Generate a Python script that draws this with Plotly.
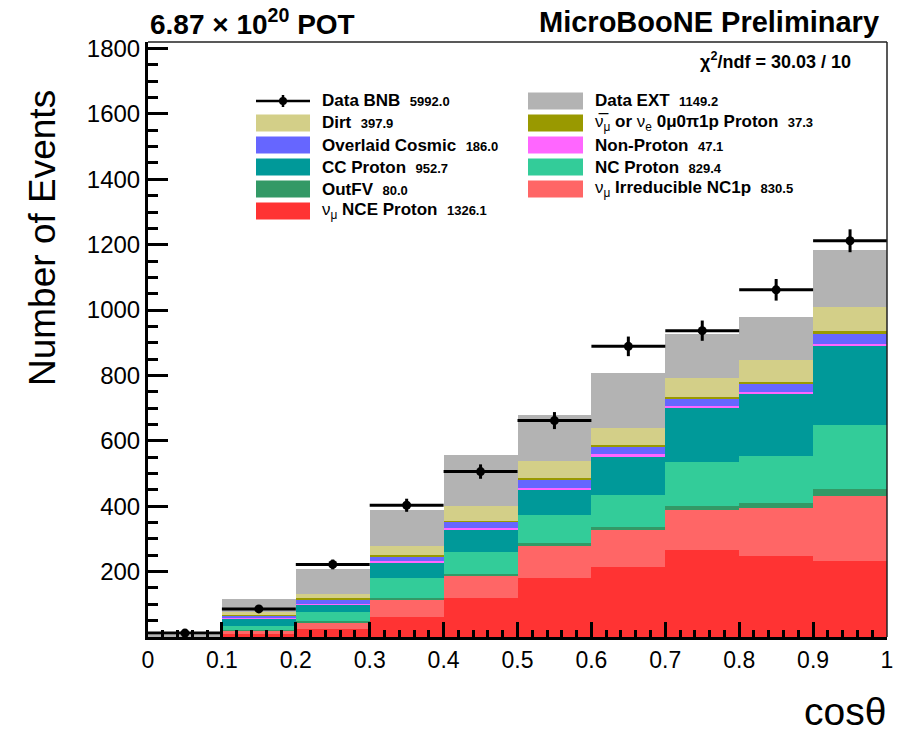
import plotly.graph_objects as go

# bin centres of cos(theta), 10 bins of width 0.1
bin_centers = [0.05, 0.15, 0.25, 0.35, 0.45, 0.55, 0.65, 0.75, 0.85, 0.95]

# stacked MC components, bottom to top
nce_proton = [3, 10, 24, 62, 118, 181, 215, 265, 247, 232]
irreducible = [0, 10, 21, 53, 70, 100, 111, 124, 148, 200]
out_fv = [0, 1, 3, 3, 5, 6, 10, 13, 15, 20]
nc_proton = [0, 14, 28, 63, 67, 85, 98, 132, 145, 196]
cc_proton = [0, 21, 22, 48, 69, 80, 118, 165, 188, 242]
non_proton = [0, 2, 2, 4, 5, 4, 8, 9, 7, 7]
cosmic = [0, 8, 15, 14, 18, 26, 22, 22, 25, 31]
nubar_nue = [0, 1, 3, 3, 4, 4, 5, 5, 5, 8]
dirt = [0, 9, 15, 28, 46, 51, 51, 56, 67, 74]
data_ext = [1, 41, 74, 110, 156, 141, 169, 137, 132, 175]

# data points
data_bnb = [12, 86, 222, 403, 506, 662, 889, 937, 1062, 1212]
data_err = [4, 9, 15, 20, 22, 26, 30, 31, 33, 35]

x_ticks = [0, 0.1, 0.2, 0.3, 0.4, 0.5, 0.6, 0.7, 0.8, 0.9, 1]
x_labels = ["0", "0.1", "0.2", "0.3", "0.4", "0.5", "0.6", "0.7", "0.8", "0.9", "1"]
y_ticks = [0, 200, 400, 600, 800, 1000, 1200, 1400, 1600, 1800]
y_labels = ["", "200", "400", "600", "800", "1000", "1200", "1400", "1600", "1800"]

# (label html, total, colour, series) bottom to top
stack = [
    ("ν<sub>μ</sub> <b>NCE Proton</b>", "1326.1", "#ff3333", nce_proton),
    ("ν<sub>μ</sub> <b>Irreducible NC1p</b>", "830.5", "#ff6666", irreducible),
    ("<b>OutFV</b>", "80.0", "#339966", out_fv),
    ("<b>NC Proton</b>", "829.4", "#33cc99", nc_proton),
    ("<b>CC Proton</b>", "952.7", "#009999", cc_proton),
    ("<b>Non-Proton</b>", "47.1", "#ff66ff", non_proton),
    ("<b>Overlaid Cosmic</b>", "186.0", "#6666ff", cosmic),
    ("ν\u0305<sub>μ</sub> <b>or</b> ν<sub>e</sub> <b>0μ0π1p Proton</b>", "37.3", "#999900", nubar_nue),
    ("<b>Dirt</b>", "397.9", "#d3cf88", dirt),
    ("<b>Data EXT</b>", "1149.2", "#b3b3b3", data_ext),
]

FONT = "Liberation Sans, Arial, Helvetica, sans-serif"

fig = go.Figure()

for label, total, color, vals in stack:
    fig.add_trace(go.Bar(
        x=bin_centers, y=vals, width=0.1,
        marker=dict(color=color, line=dict(width=0)),
        showlegend=False,
    ))

fig.add_trace(go.Scatter(
    x=bin_centers, y=data_bnb, mode="markers",
    marker=dict(color="black", size=9),
    error_x=dict(type="constant", value=0.05, thickness=3, width=0, color="black"),
    error_y=dict(type="data", array=data_err, thickness=3, width=0, color="black"),
    showlegend=False,
))

# plot frame in pixels
L, R, T, B = 148, 887, 42, 637


def px(x):
    return (x - L) / (R - L)


def py(y):
    return (B - y) / (B - T)


shapes = []
annotations = []

# thin frame on top and right
shapes.append(dict(type="line", xref="paper", yref="paper", x0=0, x1=1, y0=1, y1=1,
                   line=dict(color="#222", width=1.5)))
shapes.append(dict(type="line", xref="paper", yref="paper", x0=1, x1=1, y0=0, y1=1,
                   line=dict(color="#222", width=1.5)))

# hand made legend, two columns
col_box = [(256, 310), (528, 583)]
col_text = [320, 593]
row_y = [101, 123, 145, 167, 189, 211]

legend_items = [("<b>Data BNB</b>", "5992.0", None)] + [(s[0], s[1], s[2]) for s in stack[::-1]]
# order as in the reference, row-major in two columns
order = ["<b>Data BNB</b>", "<b>Data EXT</b>", "<b>Dirt</b>", stack[7][0], "<b>Overlaid Cosmic</b>",
         "<b>Non-Proton</b>", "<b>CC Proton</b>", "<b>NC Proton</b>", "<b>OutFV</b>",
         stack[1][0], stack[0][0]]
lookup = {it[0]: it for it in legend_items}

for i, key in enumerate(order):
    label, total, color = lookup[key]
    col = i % 2
    row = i // 2
    yc = row_y[row]
    x0, x1 = col_box[col]
    if color is None:
        shapes.append(dict(type="line", xref="paper", yref="paper", x0=px(x0), x1=px(x1),
                           y0=py(yc), y1=py(yc), line=dict(color="black", width=2.5)))
        shapes.append(dict(type="line", xref="paper", yref="paper", x0=px(283), x1=px(283),
                           y0=py(yc - 6), y1=py(yc + 6), line=dict(color="black", width=2.5)))
        shapes.append(dict(type="circle", xref="paper", yref="paper", x0=px(279), x1=px(287),
                           y0=py(yc + 4), y1=py(yc - 4), fillcolor="black", line=dict(width=0)))
    else:
        shapes.append(dict(type="rect", xref="paper", yref="paper", x0=px(x0), x1=px(x1),
                           y0=py(yc + 8.5), y1=py(yc - 8.5), fillcolor=color,
                           line=dict(width=0)))
    annotations.append(dict(
        xref="paper", yref="paper", x=px(col_text[col]), y=py(yc),
        xanchor="left", yanchor="middle", showarrow=False,
        text=f"{label}  <b><span style='font-size:13px'>{total}</span></b>",
        font=dict(family=FONT, size=17, color="black"),
    ))

# headers
annotations.append(dict(xref="paper", yref="paper", x=px(148), y=py(22), xanchor="left",
                        yanchor="middle", showarrow=False,
                        text="<b>6.87 × 10<sup>20</sup> POT</b>",
                        font=dict(family=FONT, size=28, color="black")))
annotations.append(dict(xref="paper", yref="paper", x=px(881), y=py(22), xanchor="right",
                        yanchor="middle", showarrow=False,
                        text="<b>MicroBooNE Preliminary</b>",
                        font=dict(family=FONT, size=29, color="black")))
annotations.append(dict(xref="paper", yref="paper", x=px(853), y=py(60), xanchor="right",
                        yanchor="middle", showarrow=False,
                        text="<b>χ<sup>2</sup>/ndf = 30.03 / 10</b>",
                        font=dict(family=FONT, size=18, color="black")))
# axis titles
annotations.append(dict(xref="paper", yref="paper", x=px(42), y=py(238), xanchor="center",
                        yanchor="middle", showarrow=False, textangle=-90,
                        text="Number of Events",
                        font=dict(family=FONT, size=37, color="black")))
annotations.append(dict(xref="paper", yref="paper", x=px(888), y=py(711), xanchor="right",
                        yanchor="middle", showarrow=False,
                        text="cosθ",
                        font=dict(family=FONT, size=39, color="black")))

fig.update_layout(
    width=905, height=734,
    margin=dict(l=L, r=905 - R, t=T, b=734 - B),
    barmode="stack", bargap=0,
    paper_bgcolor="white", plot_bgcolor="white",
    showlegend=False,
    shapes=shapes,
    annotations=annotations,
    font=dict(family=FONT, color="black"),
    xaxis=dict(
        range=[0, 1], tickmode="array", tickvals=x_ticks, ticktext=x_labels,
        ticks="inside", ticklen=15, tickwidth=2.5, tickcolor="black",
        minor=dict(dtick=0.02, tick0=0, ticks="inside", ticklen=7, tickwidth=2.5, tickcolor="black"),
        showline=True, linewidth=3, linecolor="black", showgrid=False, zeroline=False,
        tickfont=dict(family=FONT, size=23, color="black"),
    ),
    yaxis=dict(
        range=[0, 1820], tickmode="array", tickvals=y_ticks, ticktext=y_labels,
        ticks="inside", ticklen=20, tickwidth=2.5, tickcolor="black",
        minor=dict(dtick=50, tick0=0, ticks="inside", ticklen=10, tickwidth=2.5, tickcolor="black"),
        showline=True, linewidth=3, linecolor="black", showgrid=False, zeroline=False,
        tickfont=dict(family=FONT, size=24, color="black"),
    ),
)

# drop the default page margin so the figure sits at the window corner
fig.write_html("out.html", config={"displayModeBar": False},
               post_script="document.body.style.margin='0';")
